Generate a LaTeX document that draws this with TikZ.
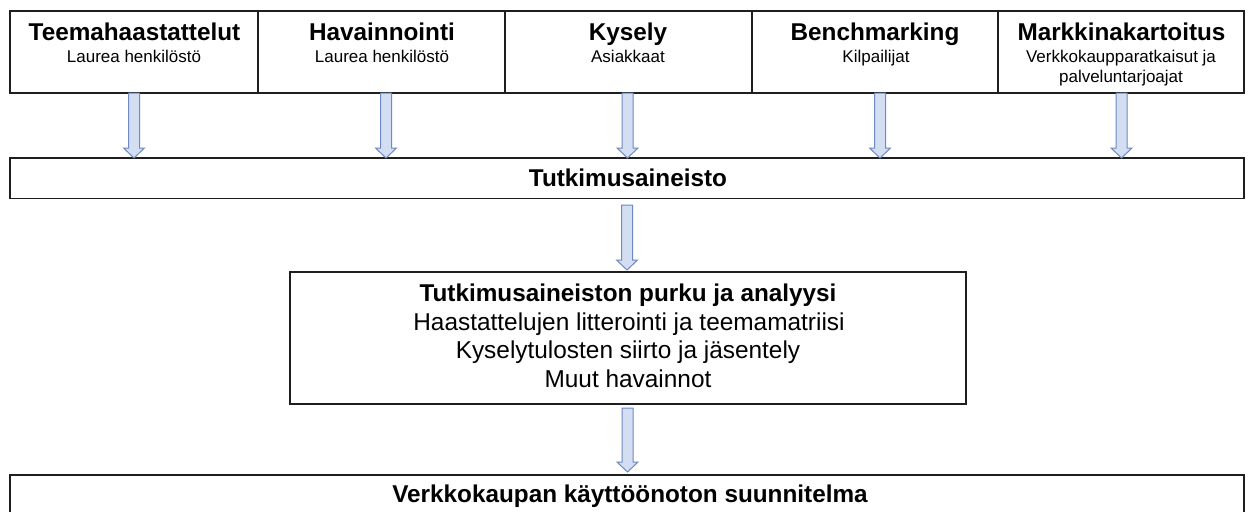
\documentclass[tikz,border=0pt]{standalone}
\usepackage{fontspec}
\setmainfont{Liberation Sans}
\usetikzlibrary{calc}
\definecolor{arrfill}{RGB}{212,222,242}
\definecolor{arrline}{RGB}{110,138,192}
\definecolor{boxline}{RGB}{30,30,30}
\newcommand\blockarr[2]{%
  \draw[barrow] let \p1=(#1), \p2=(#2) in
    (\x1-5.5pt,\y1) -- (\x1-5.5pt,\y2+10pt) -- (\x1-10.5pt,\y2+10pt) -- (\x1,\y2)
    -- (\x1+10.5pt,\y2+10pt) -- (\x1+5.5pt,\y2+10pt) -- (\x1+5.5pt,\y1) -- cycle;}
\tikzset{
  box/.style={draw=boxline, line width=1.2pt, fill=white, inner sep=0pt, outer sep=0pt},
  barrow/.style={draw=arrline, fill=arrfill, line width=1pt, line join=miter},
  ttl/.style={anchor=base, inner sep=0pt, font=\fontsize{24.3}{27}\selectfont\bfseries},
  sub/.style={anchor=base, inner sep=0pt, font=\fontsize{17}{19}\selectfont},
  body/.style={anchor=base, inner sep=0pt, font=\fontsize{24.4}{28}\selectfont},
}
\begin{document}
\begin{tikzpicture}[x=1pt,y=-1pt]
\clip (0,0) rectangle (1249,511);
\fill[white] (0,0) rectangle (1249,511);
% top row boxes
\node[box, minimum width=248, minimum height=82] (b1) at (134,52) {};
\node[box, minimum width=247, minimum height=82] (b2) at (381.5,52) {};
\node[box, minimum width=247, minimum height=82] (b3) at (628.5,52) {};
\node[box, minimum width=246, minimum height=82] (b4) at (875,52) {};
\node[box, minimum width=246, minimum height=82] (b5) at (1121,52) {};
% other boxes
\node[box, minimum width=1234, minimum height=40.5] (ta) at (627,178.25) {};
\node[box, minimum width=676, minimum height=132] (an) at (628,338) {};
\node[box, minimum width=1234, minimum height=85] (vk) at (627,517.5) {};
% texts
\node[ttl] (t1) at (134.5,40.5) {Teemahaastattelut};
\node[sub] (s1) at (134,63) {Laurea henkilöstö};
\node[ttl] (t2) at (382,40.5) {Havainnointi};
\node[sub] (s2) at (382,63) {Laurea henkilöstö};
\node[ttl] (t3) at (628,40.5) {Kysely};
\node[sub] (s3) at (628,63) {Asiakkaat};
\node[ttl] (t4) at (875,40.5) {Benchmarking};
\node[sub] (s4) at (876,63) {Kilpailijat};
\node[ttl] (t5) at (1121.5,40.5) {Markkinakartoitus};
\node[sub] (s5a) at (1121,63) {Verkkokaupparatkaisut ja};
\node[sub] (s5b) at (1121,82) {palveluntarjoajat};
\node[ttl] (tta) at (628,186.7) {Tutkimusaineisto};
\node[ttl] (tan) at (628,301.7) {Tutkimusaineiston purku ja analyysi};
\node[body] (l1) at (629,330) {Haastattelujen litterointi ja teemamatriisi};
\node[body] (l2) at (628,358.5) {Kyselytulosten siirto ja jäsentely};
\node[body] (l3) at (628,387) {Muut havainnot};
\node[ttl] (tvk) at (630,502) {Verkkokaupan käyttöönoton suunnitelma};
% arrows
\blockarr{b1.south}{ta.north}
\blockarr{[xshift=4.5pt]b2.south}{ta.north}
\blockarr{[xshift=-1pt]b3.south}{ta.north}
\blockarr{[xshift=5pt]b4.south}{ta.north}
\blockarr{[xshift=0.5pt]b5.south}{ta.north}
\blockarr{[yshift=-6.5pt]ta.south}{[yshift=2pt]an.north}
\blockarr{[yshift=-4pt,xshift=-0.5pt]an.south}{[yshift=3pt]vk.north}
\end{tikzpicture}
\end{document}
